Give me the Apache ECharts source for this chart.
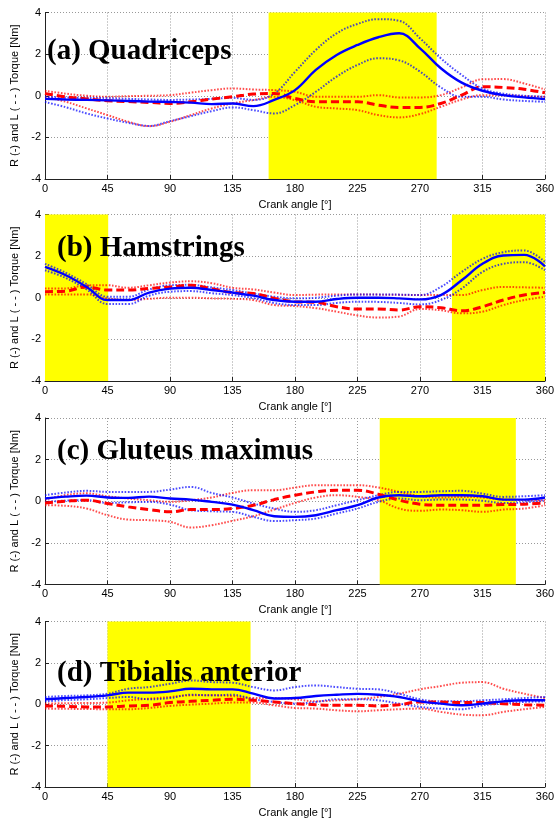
<!DOCTYPE html>
<html>
<head>
<meta charset="utf-8">
<script src="https://cdn.jsdelivr.net/npm/echarts@6/dist/echarts.min.js"></script>
<style>
html, body { margin: 0; padding: 0; background: #fff; }
#chart { width: 559px; height: 819px; }
</style>
</head>
<body>
<div id="chart"></div>
<script>
// crank angle samples (deg)
var angles = [0,15,30,45,60,75,90,105,120,135,150,165,180,195,210,225,240,255,270,285,300,315,330,345,360];

// (a) Quadriceps
var quadR   = [-0.15,-0.18,-0.2,-0.22,-0.25,-0.28,-0.3,-0.33,-0.4,-0.37,-0.5,-0.2,0.27,1.24,1.96,2.44,2.81,3.0,2.28,1.32,0.63,0.24,0.03,-0.08,-0.16];
var quadRUp = [-0.05,-0.08,-0.1,-0.12,-0.15,-0.18,-0.2,-0.18,-0.15,-0.1,-0.2,0.1,1.15,2.2,3.0,3.45,3.68,3.6,2.76,1.8,1.0,0.35,0.1,0.0,-0.05];
var quadRLo = [-0.3,-0.55,-0.85,-1.09,-1.3,-1.45,-1.22,-0.98,-0.74,-0.56,-0.69,-0.85,-0.45,0.19,0.92,1.48,1.8,1.7,1.16,0.4,-0.05,-0.05,-0.18,-0.25,-0.29];
var quadL   = [0.11,-0.05,-0.15,-0.24,-0.28,-0.32,-0.37,-0.29,-0.16,-0.05,0.08,0.11,-0.13,-0.29,-0.29,-0.29,-0.45,-0.56,-0.56,-0.37,0.03,0.43,0.4,0.31,0.14];
var quadLUp = [0.24,0.1,0.0,-0.05,-0.02,0.0,0.03,0.15,0.27,0.35,0.3,0.27,0.19,-0.05,-0.05,-0.05,0.03,-0.08,-0.08,0.03,0.4,0.79,0.8,0.59,0.3];
var quadLLo = [-0.05,-0.29,-0.61,-0.93,-1.25,-1.46,-1.25,-0.93,-0.61,-0.37,-0.21,-0.05,-0.21,-0.53,-0.61,-0.69,-0.93,-1.04,-0.88,-0.53,-0.18,0.03,0.03,-0.02,-0.05];

// (b) Hamstrings
var hamR   = [1.48,1.08,0.52,-0.11,-0.11,0.25,0.44,0.48,0.37,0.25,0.1,-0.11,-0.19,-0.19,-0.06,0,0,-0.03,-0.08,0.13,0.84,1.63,2.03,2.06,1.51];
var hamRUp = [1.63,1.2,0.65,0.05,0.05,0.4,0.6,0.62,0.5,0.37,0.2,0.05,-0.03,0.0,0.1,0.16,0.16,0.15,0.13,0.52,1.24,1.87,2.19,2.27,1.71];
var hamRLo = [1.32,0.95,0.4,-0.3,-0.3,0.1,0.29,0.32,0.22,0.13,-0.02,-0.25,-0.35,-0.35,-0.25,-0.19,-0.2,-0.25,-0.32,-0.11,0.44,1.24,1.63,1.71,1.32];
var hamL   = [0.29,0.32,0.52,0.37,0.37,0.45,0.52,0.6,0.44,0.25,0.21,-0.03,-0.19,-0.22,-0.43,-0.54,-0.54,-0.59,-0.43,-0.48,-0.63,-0.43,-0.11,0.13,0.25];
var hamLUp = [0.44,0.45,0.6,0.6,0.48,0.6,0.73,0.79,0.7,0.48,0.4,0.25,0.13,0.15,0.16,0.16,0.15,0.14,0.13,0.13,0.13,0.37,0.52,0.5,0.48];
var hamLLo = [0.16,0.16,0.16,-0.03,-0.11,-0.05,0,0,-0.03,-0.05,-0.11,-0.35,-0.4,-0.5,-0.67,-0.85,-0.95,-0.9,-0.54,-0.6,-0.75,-0.67,-0.35,-0.11,0.05];

// (c) Gluteus maximus
var gluR   = [0.13,0.22,0.27,0.18,0.16,0.22,0.13,0.08,-0.03,-0.16,-0.43,-0.72,-0.75,-0.67,-0.43,-0.19,0.18,0.29,0.24,0.29,0.29,0.24,0.08,0.08,0.18];
var gluRUp = [0.29,0.42,0.5,0.45,0.45,0.45,0.56,0.69,0.4,0.18,-0.11,-0.35,-0.51,-0.43,-0.19,0.05,0.29,0.45,0.45,0.48,0.5,0.37,0.21,0.24,0.29];
var gluRLo = [-0.03,0.03,0.05,-0.08,-0.05,-0.03,-0.16,-0.43,-0.48,-0.51,-0.75,-0.95,-0.91,-0.83,-0.59,-0.35,-0.03,0.13,0.05,0.08,0.08,0.02,-0.08,-0.05,0.05];
var gluL   = [-0.08,0.0,0.05,-0.11,-0.27,-0.4,-0.51,-0.4,-0.4,-0.35,-0.19,0.08,0.29,0.45,0.53,0.53,0.34,0.05,-0.14,-0.19,-0.19,-0.19,-0.16,-0.14,-0.08];
var gluLUp = [0.08,0.3,0.38,0.24,0.13,0.05,-0.03,0.05,0.18,0.4,0.53,0.53,0.66,0.77,0.77,0.77,0.66,0.45,0.24,0.18,0.21,0.18,0.08,0.06,0.05];
var gluLLo = [-0.19,-0.22,-0.35,-0.67,-0.88,-0.91,-0.99,-1.26,-1.15,-0.94,-0.72,-0.4,-0.08,0.18,0.29,0.21,0.05,-0.35,-0.46,-0.4,-0.43,-0.51,-0.4,-0.35,-0.19];

// (d) Tibialis anterior
var tibR   = [0.24,0.3,0.35,0.43,0.56,0.56,0.62,0.75,0.72,0.72,0.51,0.28,0.3,0.4,0.46,0.5,0.46,0.35,0.14,0.03,-0.05,0.03,0.14,0.19,0.19];
var tibRUp = [0.35,0.4,0.43,0.51,0.75,0.83,0.99,1.15,1.07,1.04,0.83,0.67,0.83,0.91,0.83,0.75,0.72,0.51,0.24,0.14,0.14,0.19,0.24,0.3,0.35];
var tibRLo = [0.14,0.2,0.24,0.3,0.35,0.24,0.3,0.46,0.43,0.46,0.24,0.11,0.03,0.11,0.24,0.24,0.19,0.03,-0.13,-0.21,-0.24,-0.05,0.03,0.11,0.14];
var tibL   = [-0.08,-0.1,-0.13,-0.13,-0.08,-0.05,0.08,0.14,0.19,0.24,0.19,0.11,0.03,-0.02,-0.05,-0.05,-0.08,-0.02,0.11,0.11,0.08,0.08,0.03,-0.02,-0.05];
var tibLUp = [0.03,0.05,0.06,0.08,0.19,0.27,0.35,0.43,0.43,0.4,0.3,0.3,0.24,0.14,0.19,0.24,0.35,0.51,0.72,0.88,1.04,1.07,0.75,0.51,0.3];
var tibLLo = [-0.21,-0.22,-0.23,-0.24,-0.24,-0.18,-0.08,-0.02,0.03,0.08,0.08,-0.05,-0.18,-0.21,-0.29,-0.34,-0.29,-0.24,-0.21,-0.37,-0.5,-0.53,-0.37,-0.24,-0.13];

// highlighted crank angle ranges (yellow)
var bandsA = [[161, 282]];
var bandsB = [[0, 45.5], [293, 360]];
var bandsC = [[241, 339]];
var bandsD = [[45, 148]];

var panelTitles = ['(a) Quadriceps', '(b) Hamstrings', '(c) Gluteus maximus', '(d) Tibialis anterior'];
var panels = [
    {R: quadR, RUp: quadRUp, RLo: quadRLo, L: quadL, LUp: quadLUp, LLo: quadLLo, bands: bandsA},
    {R: hamR, RUp: hamRUp, RLo: hamRLo, L: hamL, LUp: hamLUp, LLo: hamLLo, bands: bandsB},
    {R: gluR, RUp: gluRUp, RLo: gluRLo, L: gluL, LUp: gluLUp, LLo: gluLLo, bands: bandsC},
    {R: tibR, RUp: tibRUp, RLo: tibRLo, L: tibL, LUp: tibLUp, LLo: tibLLo, bands: bandsD}
];

var gridTops = [12.5, 214.5, 418, 621.5];
var gridH = 166.5;
var titleTops = [32, 229, 432, 654];
var titleLefts = [42, 52, 52, 52];

function pairs(vals) {
    var out = [];
    for (var i = 0; i < angles.length; i++) out.push([angles[i], vals[i]]);
    return out;
}

var grids = [], xAxes = [], yAxes = [], series = [], titles = [];

for (var p = 0; p < panels.length; p++) {
    grids.push({left: 45, right: 14, top: gridTops[p], height: gridH});
    xAxes.push({
        type: 'value', gridIndex: p, min: 0, max: 360, interval: 45,
        name: 'Crank angle [°]', nameLocation: 'middle', nameGap: 20,
        nameTextStyle: {fontFamily: 'Liberation Sans', fontSize: 11, color: '#000'},
        axisLine: {show: true, onZero: false, lineStyle: {color: '#222', width: 1}},
        axisTick: {show: true, inside: true, length: 4, lineStyle: {color: '#222'}},
        axisLabel: {fontFamily: 'Liberation Sans', fontSize: 11, color: '#000', margin: 4},
        splitLine: {show: true, lineStyle: {type: [1, 2], color: '#999'}}
    });
    yAxes.push({
        type: 'value', gridIndex: p, min: -4, max: 4, interval: 2,
        name: 'R (-) and L ( - - ) Torque [Nm]', nameLocation: 'middle', nameGap: 23,
        nameRotate: 90,
        nameTextStyle: {fontFamily: 'Liberation Sans', fontSize: 11, color: '#000'},
        axisLine: {show: true, lineStyle: {color: '#222', width: 1}},
        axisTick: {show: true, inside: true, length: 4, lineStyle: {color: '#222'}},
        axisLabel: {fontFamily: 'Liberation Sans', fontSize: 11, color: '#000', margin: 4},
        splitLine: {show: true, lineStyle: {type: [1, 2], color: '#999'}}
    });
    titles.push({
        text: panelTitles[p], left: titleLefts[p], top: titleTops[p],
        textStyle: {fontFamily: 'Liberation Serif', fontWeight: 'bold', fontSize: 29, color: '#000'}
    });

    var pd = panels[p];
    var areas = pd.bands.map(function (b) { return [{xAxis: b[0]}, {xAxis: b[1]}]; });
    // yellow bands
    series.push({
        type: 'line', xAxisIndex: p, yAxisIndex: p, data: [], z: 1, silent: true,
        markArea: {silent: true, itemStyle: {color: '#ffff00', opacity: 1}, data: areas}
    });
    var dotted = {type: [1.6, 1.6], width: 2, opacity: 0.7};
    var defs = [
        {d: pd.LUp, c: '#ff0000', s: dotted},
        {d: pd.LLo, c: '#ff0000', s: dotted},
        {d: pd.RUp, c: '#0000ff', s: dotted},
        {d: pd.RLo, c: '#0000ff', s: dotted},
        {d: pd.L, c: '#ff0000', s: {type: [8, 4], width: 3}},
        {d: pd.R, c: '#0000ff', s: {type: 'solid', width: 2.4}}
    ];
    defs.forEach(function (o) {
        series.push({
            type: 'line', xAxisIndex: p, yAxisIndex: p, data: pairs(o.d),
            smooth: 0.4, showSymbol: false, z: 3, silent: true,
            lineStyle: Object.assign({color: o.c}, o.s)
        });
    });
}

var chart = echarts.init(document.getElementById('chart'));
chart.setOption({
    animation: false,
    title: titles,
    grid: grids,
    xAxis: xAxes,
    yAxis: yAxes,
    series: series
});
</script>
</body>
</html>
